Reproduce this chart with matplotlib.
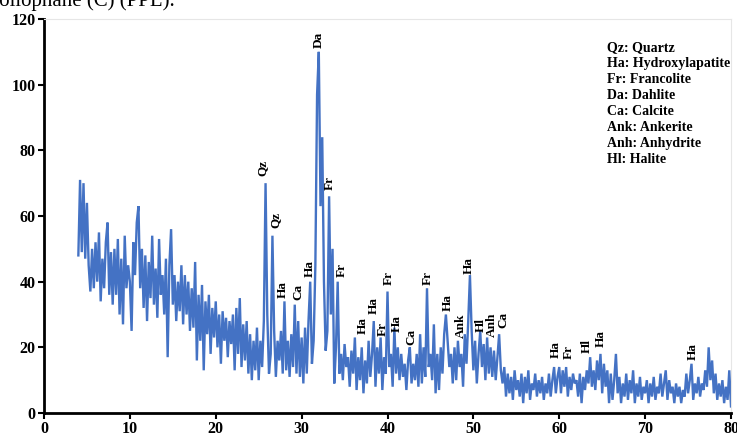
import numpy as np
import matplotlib
matplotlib.use("Agg")
import matplotlib.pyplot as plt

# Two-theta grid start/step and intensities
x_start = 4.0
x_step = 0.2
intensity = [
    48, 71, 49, 70, 47, 64, 45, 37, 50, 38,   # 4.0 - 5.8
    52, 40, 55, 34, 47, 38, 52, 58, 36, 49,   # 6.0
    33, 50, 36, 53, 30, 47, 27, 54, 38, 45,   # 8.0
    40, 25, 52, 42, 58, 63, 38, 50, 32, 48,   # 10.0
    28, 46, 35, 54, 33, 44, 29, 53, 36, 42,   # 12.0
    30, 47, 17, 45, 56, 33, 42, 28, 40, 31,   # 14.0
    45, 27, 42, 30, 40, 25, 38, 26, 46, 16,   # 16.0
    36, 22, 39, 13, 34, 24, 36, 18, 32, 23,   # 18.0
    34, 20, 30, 15, 31, 22, 29, 17, 28, 21,   # 20.0
    30, 13, 32, 18, 35, 14, 27, 16, 28, 12,   # 22.0
    24, 10, 22, 13, 26, 10, 22, 14, 28, 70,   # 24.0
    30, 12, 18, 54, 25, 11, 22, 16, 25, 12,   # 26.0
    34, 13, 22, 11, 24, 14, 33, 12, 28, 11,   # 28.0
    23, 9, 26, 12, 28, 40, 15, 22, 45, 97,    # 30.0
    110, 63, 84, 40, 19, 25, 66, 30, 50, 9,   # 32.0
    20, 40, 12, 18, 10, 21, 14, 17, 8, 19,    # 34.0
    12, 23, 7, 17, 10, 20, 6, 16, 9, 22,      # 36.0
    11, 18, 28, 8, 20, 12, 23, 7, 17, 12,     # 38.0
    37, 14, 18, 8, 26, 12, 20, 10, 18, 11,    # 40.0
    15, 7, 16, 20, 9, 15, 10, 18, 8, 24,      # 42.0
    9, 20, 11, 38, 14, 18, 10, 27, 6, 18,     # 44.0
    7, 20, 12, 24, 30, 22, 14, 18, 9, 20,     # 46.0
    10, 22, 14, 18, 8, 24, 15, 28, 42, 25,    # 48.0
    13, 22, 9, 18, 25, 14, 21, 10, 23, 12,    # 50.0
    20, 11, 19, 10, 17, 24, 13, 9, 14, 5,     # 52.0
    12, 6, 11, 4, 13, 7, 10, 5, 12, 3,        # 54.0
    11, 6, 13, 4, 9, 7, 12, 5, 10, 6,         # 56.0
    11, 4, 9, 6, 12, 5, 10, 14, 6, 11,        # 58.0
    14, 6, 13, 8, 14, 5, 11, 7, 12, 9,        # 60.0
    10, 5, 12, 3, 11, 7, 13, 9, 17, 8,        # 62.0
    13, 7, 16, 10, 18, 6, 15, 8, 13, 3,       # 64.0
    12, 4, 10, 18, 6, 11, 3, 9, 5, 12,        # 66.0
    4, 10, 6, 13, 3, 9, 5, 11, 4, 8,          # 68.0
    6, 10, 3, 9, 5, 11, 4, 8, 6, 12,          # 70.0
    5, 9, 13, 4, 10, 6, 8, 3, 9, 5,           # 72.0
    8, 3, 7, 5, 12, 6, 10, 15, 4, 9,          # 74.0
    6, 11, 5, 9, 7, 13, 8, 20, 10, 16,        # 76.0
    6, 12, 4, 9, 5, 10, 3, 8, 4, 13,          # 78.0
    2,                                        # 80.0
]

# Phase labels: text, x, y (label centre)
peak_labels = ["Da", "Qz", "Qz", "Fr", "Fr", "Ha", "Ca", "Ha",
               "Ha", "Ha", "Fr", "Fr", "Ha", "Ca", "Fr", "Ha", "Ank", "Ha",
               "Hl", "Anh", "Ca", "Ha", "Fr", "Hl", "Ha", "Ha"]
peak_x = [32.0, 25.5, 26.9, 33.3, 34.7, 27.8, 29.6, 30.9,
          37.1, 38.4, 39.4, 40.1, 41.1, 42.8, 44.7, 47.0, 48.5, 49.5,
          50.8, 52.1, 53.5, 59.6, 61.1, 63.2, 64.8, 75.6]
peak_y = [113.6, 74.6, 58.8, 70.0, 43.6, 37.5, 37.0, 44.0,
          26.8, 32.6, 25.6, 41.0, 27.4, 23.2, 41.0, 33.8, 26.5, 45.0,
          26.8, 26.8, 28.3, 19.2, 18.6, 20.4, 22.8, 18.6]

legend_lines = ["Qz: Quartz", "Ha: Hydroxylapatite", "Fr: Francolite",
                "Da: Dahlite", "Ca: Calcite", "Ank: Ankerite",
                "Anh: Anhydrite", "Hl: Halite"]

x_ticks = [0, 10, 20, 30, 40, 50, 60, 70, 80]
y_ticks = [0, 20, 40, 60, 80, 100, 120]

serif = ["Liberation Serif", "DejaVu Serif"]
plt.rcParams["font.family"] = serif

x = x_start + x_step * np.arange(len(intensity))

fig = plt.figure(figsize=(7.37, 4.37), dpi=100)
ax = fig.add_axes([44 / 737, 24 / 437, (731 - 44) / 737, (413 - 19) / 437])

ax.plot(x, intensity, color="#4472C4", lw=1.7, solid_joinstyle="miter")

ax.set_xlim(0, 80)
ax.set_ylim(0, 120)
ax.set_xticks(x_ticks)
ax.set_yticks(y_ticks)
ax.tick_params(axis="both", direction="out", length=4, width=1.5,
               labelsize=11.5, pad=2)
for lab in ax.get_xticklabels() + ax.get_yticklabels():
    lab.set_fontweight("bold")

for side in ["left", "bottom"]:
    ax.spines[side].set_linewidth(2)
    ax.spines[side].set_color("black")
for side in ["top", "right"]:
    ax.spines[side].set_linewidth(0.8)
    ax.spines[side].set_color("#e6e6e6")

for t, px, py in zip(peak_labels, peak_x, peak_y):
    ax.text(px, py, t, rotation=90, ha="center", va="center",
            fontsize=9.5, fontweight="bold")

ax.text(0.82, 0.945, "\n".join(legend_lines), transform=ax.transAxes,
        ha="left", va="top", fontsize=10, fontweight="bold", linespacing=1.3)

fig.text(-0.014, 0.986, "collophane (C) (PPL).", ha="left", va="baseline",
         fontsize=15)

fig.savefig("out.png", dpi=100)
